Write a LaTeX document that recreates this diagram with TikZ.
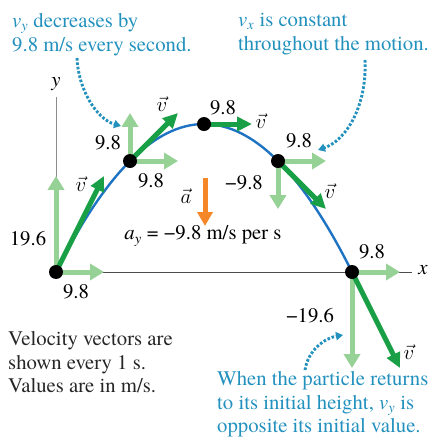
\documentclass[tikz,border=0pt]{standalone}
\usepackage{fontspec}
\setmainfont{texgyretermes}[Extension=.otf, UprightFont=*-regular,
  ItalicFont=*-italic, BoldFont=*-bold, BoldItalicFont=*-bolditalic]
\usepackage{tikz}
\usetikzlibrary{arrows.meta}

\definecolor{notecol}{RGB}{35,145,190}
\definecolor{trajcol}{RGB}{30,115,195}
\definecolor{velcol}{RGB}{25,160,70}
\definecolor{compcol}{RGB}{150,210,150}
\definecolor{acccol}{RGB}{245,135,40}

\begin{document}
\begin{tikzpicture}[x=1pt, y=-1pt,
    font=\fontsize{20.74}{23.7}\selectfont,
    traj/.style={draw=trajcol, line width=2.4pt},
    comp/.style={draw=compcol, line width=5pt, -{Triangle[length=14pt, width=16pt]}},
    vel/.style={draw=velcol, line width=5pt, -{Triangle[length=15pt, width=14pt]}},
    accarrow/.style={draw=acccol, line width=5pt, -{Triangle[length=14pt, width=15pt]}},
    dot/.style={circle, fill=black, inner sep=0pt, minimum size=14pt},
    val/.style={inner sep=0pt},
    note/.style={align=left, inner sep=0pt, anchor=north west, text=notecol},
    hint/.style={draw=notecol, line width=2.9pt, dash pattern=on 2.6pt off 1.8pt,
                 -{Triangle[length=7pt, width=8pt]}},
    axis/.style={line width=1pt}]
    \useasboundingbox (0,0) rectangle (433,443);
    % positions and vector tips, one per second
    \foreach \t in {0,...,4}{
      \pgfmathsetmacro\px{56+74*\t}
      \pgfmathsetmacro\py{272-7.55*(19.6*\t-4.9*\t*\t)}
      \pgfmathsetmacro\vy{4.9*(19.6-9.8*\t)}
      \coordinate (p\t) at (\px,\py);
      \coordinate (h\t) at (\px+48,\py);
      \coordinate (v\t) at (\px,\py-\vy);
      \coordinate (w\t) at (\px+48,\py-\vy);
    }
    \coordinate (c1) at (154.7,74.7);
    \coordinate (c2) at (253.3,74.7);
    \coordinate (ytop) at (56,97);
    \coordinate (xend) at (412,272);
    % axes
    \draw[axis, draw=black!45] (p0) -- (ytop);
    \draw[axis, draw=black!70] (p0) -- (xend);
    \node[val] (ylab) at (56,84) {\textit{y}};
    \node[val] (xlab) at (423,270) {\textit{x}};
    % path of the particle
    \draw[traj] (p0) .. controls (c1) and (c2) .. (p4);
    % components and velocity
    \foreach \t in {0,1,3,4}{
      \draw[comp] (p\t) -- (h\t);
      \draw[comp] (p\t) -- (v\t);
    }
    \foreach \t in {0,...,4}
      \draw[vel] (p\t) -- (w\t);
    \foreach \t in {0,...,4}
      \node[dot] (d\t) at (p\t) {};
    % values
    \node[val] (lh0) at (76,292) {9.8};
    \node[val] (lv0) at (28,239) {19.6};
    \node[val] (vec0) at (81,184) {$\vec{v}$};
    \node[val] (lv1) at (108,143) {9.8};
    \node[val] (lh1) at (151,181) {9.8};
    \node[val] (vec1) at (162,104) {$\vec{v}$};
    \node[val] (lh2) at (223,108) {9.8};
    \node[val] (vec2) at (261,121) {$\vec{v}$};
    \node[val] (lh3) at (299,141) {9.8};
    \node[val] (lv3) at (244,183) {−9.8};
    \node[val] (vec3) at (330,191) {$\vec{v}$};
    \node[val] (lh4) at (372,252) {9.8};
    \node[val] (lv4) at (310,316) {−19.6};
    \node[val] (vec4) at (409,352) {$\vec{v}$};
    % acceleration
    \coordinate (acc0) at (205,178);
    \coordinate (acc1) at (205,226);
    \draw[accarrow] (acc0) -- (acc1);
    \node[val] (alab) at (186,196) {$\vec{a}$};
    \node[val] (ayval) at (203,236) {\textit{a}\textsubscript{\textit{y}} = −9.8 m/s per s};
    % notes
    \node[note] (n1) at (12,13) {\textit{v}\textsubscript{\textit{y}} decreases by\\9.8 m/s every second.};
    \node[note] (n2) at (238,13) {\textit{v}\textsubscript{\textit{x}} is constant\\throughout the motion.};
    \node[note, text=black!85] (n3) at (8,331) {Velocity vectors are\\shown every 1 s.\\Values are in m/s.};
    \node[note] (n4) at (217,371) {When the particle returns\\to its initial height, \textit{v}\textsubscript{\textit{y}} is\\opposite its initial value.};
    % pointers from the notes
    \coordinate (s1) at (77,58);
    \coordinate (e1) at (121,126);
    \coordinate (s2) at (365,60);
    \coordinate (e2) at (318,150);
    \coordinate (s3) at (305,370);
    \coordinate (e3) at (343,335);
    \draw[hint] (s1) .. controls (78,88) and (96,119) .. (e1);
    \draw[hint] (s2) .. controls (367,105) and (347,140) .. (e2);
    \draw[hint] (s3) .. controls (308,350) and (325,338) .. (e3);
\end{tikzpicture}
\end{document}
